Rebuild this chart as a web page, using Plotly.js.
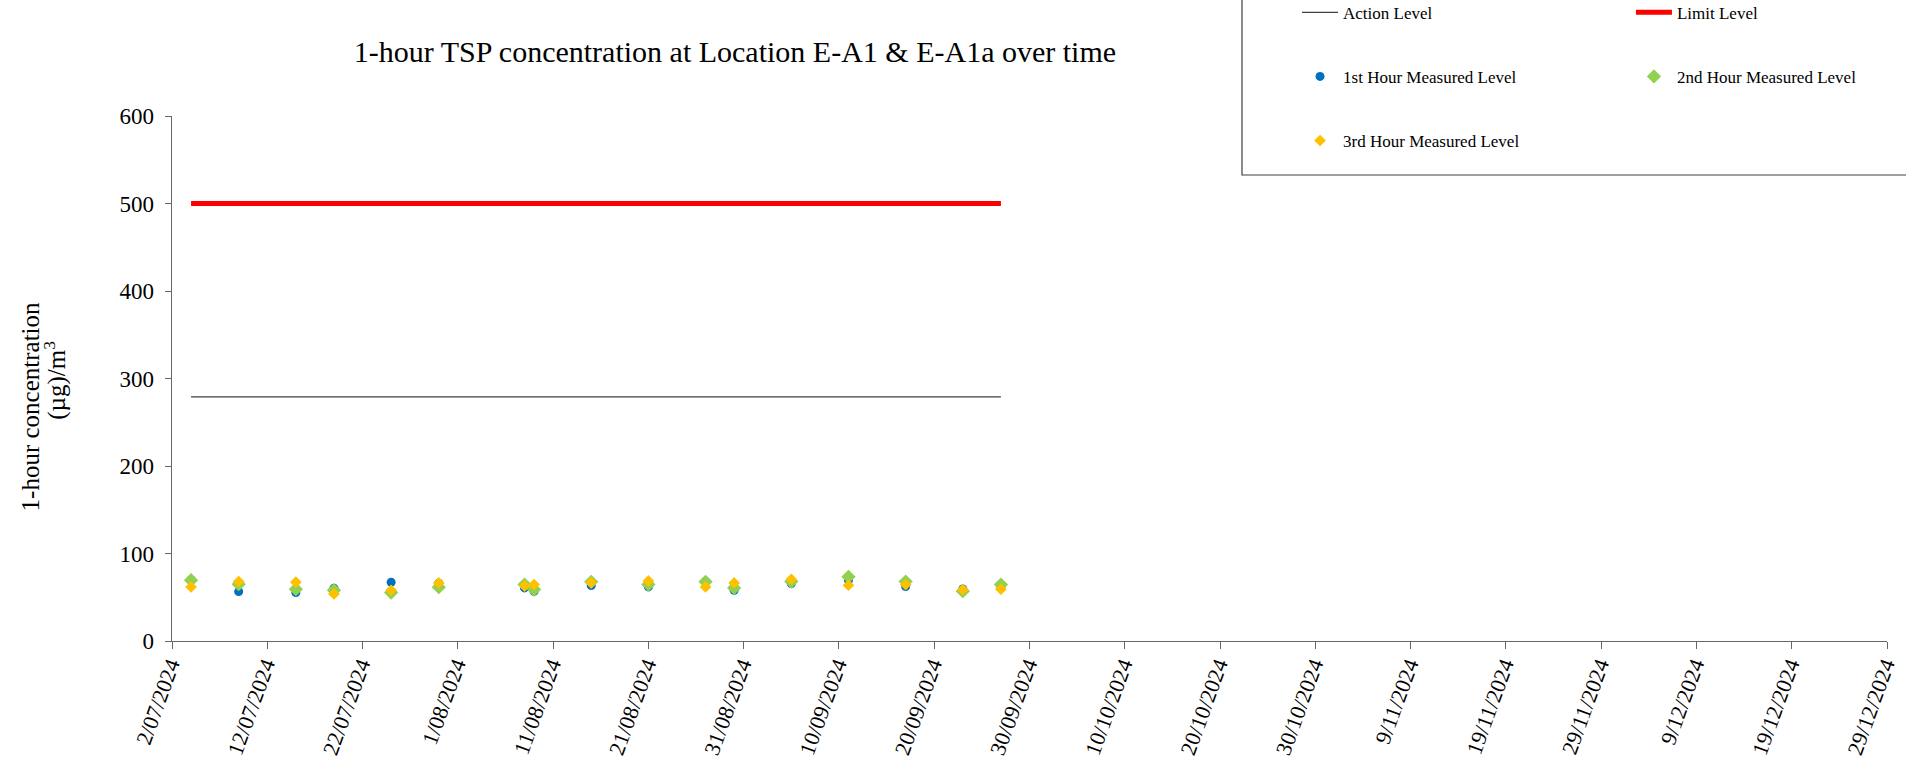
<!DOCTYPE html>
<html>
<head>
<meta charset="utf-8">
<script src="https://cdn.plot.ly/plotly-3.0.1.min.js"></script>
<style>html,body{margin:0;padding:0;background:#fff;}#chart{width:1906px;height:759px;}</style>
</head>
<body>
<div id="chart"></div>
<script>
// ---- data ----
const sampleDates = ['2024-07-04','2024-07-09','2024-07-15','2024-07-19','2024-07-25','2024-07-30',
  '2024-08-08','2024-08-09','2024-08-15','2024-08-21','2024-08-27','2024-08-30',
  '2024-09-05','2024-09-11','2024-09-17','2024-09-23','2024-09-27'];
const firstHour  = [70, 56.5, 55.3, 60.3, 67.2, 66, 60.7, 56.9, 63.4, 61.8, 68.3, 58, 65.6, 69.5, 62.2, 59.5, 61];
const secondHour = [69.5, 64.9, 59.2, 58, 55.3, 61.5, 64.5, 58.8, 67.6, 64.5, 67.6, 60.7, 67.9, 73.3, 67.9, 56.9, 64.5];
const thirdHour  = [61.8, 67.9, 67.2, 53.8, 58, 66.4, 63, 64.5, 66.8, 68.7, 61.8, 66.4, 70.6, 63.7, 64.5, 58.8, 59.2];
const levelDates = ['2024-07-04','2024-09-27'];
const actionLevel = [279, 279];
const limitLevel  = [500, 500];
const tickDates = ['2024-07-02','2024-07-12','2024-07-22','2024-08-01','2024-08-11','2024-08-21','2024-08-31',
  '2024-09-10','2024-09-20','2024-09-30','2024-10-10','2024-10-20','2024-10-30','2024-11-09',
  '2024-11-19','2024-11-29','2024-12-09','2024-12-19','2024-12-29'];
const tickLabels = ['2/07/2024','12/07/2024','22/07/2024','1/08/2024','11/08/2024','21/08/2024','31/08/2024',
  '10/09/2024','20/09/2024','30/09/2024','10/10/2024','20/10/2024','30/10/2024','9/11/2024',
  '19/11/2024','29/11/2024','9/12/2024','19/12/2024','29/12/2024'];
const yTicks = [0, 100, 200, 300, 400, 500, 600];
const yTitleLines = ['1-hour concentration', '(µg)/m<sup>3</sup>'];

const FONT = '"Times New Roman", "Liberation Serif", serif';

const traces = [
  {x: levelDates, y: actionLevel, name: 'Action Level', type: 'scatter', mode: 'lines',
   line: {color: '#404040', width: 1.3}, legend: 'legend', legendgroup: 'a', hoverinfo: 'skip'},
  {x: levelDates, y: limitLevel, name: 'Limit Level', type: 'scatter', mode: 'lines',
   line: {color: '#ff0000', width: 5}, legend: 'legend2', legendgroup: 'b', hoverinfo: 'skip'},
  {x: sampleDates, y: firstHour, name: '1st Hour Measured Level', type: 'scatter', mode: 'markers',
   marker: {color: '#0070c0', symbol: 'circle', size: 9}, legend: 'legend', legendgroup: 'c'},
  {x: sampleDates, y: secondHour, name: '2nd Hour Measured Level', type: 'scatter', mode: 'markers',
   marker: {color: '#92d050', symbol: 'diamond', size: 11}, legend: 'legend2', legendgroup: 'd'},
  {x: sampleDates, y: thirdHour, name: '3rd Hour Measured Level', type: 'scatter', mode: 'markers',
   marker: {color: '#ffc000', symbol: 'diamond', size: 9}, legend: 'legend', legendgroup: 'e'}
];

const legendCommon = {
  xref: 'paper', yref: 'paper', xanchor: 'left', yanchor: 'top',
  bgcolor: 'rgba(0,0,0,0)', borderwidth: 0, orientation: 'v',
  font: {family: FONT, size: 17, color: '#000'},
  tracegroupgap: 39, itemwidth: 36, traceorder: 'grouped'
};

const layout = {
  width: 1906, height: 759,
  paper_bgcolor: '#fff', plot_bgcolor: '#fff',
  margin: {l: 172, r: 19, t: 116, b: 118, autoexpand: false},
  font: {family: FONT, color: '#000'},
  title: {text: '1-hour TSP concentration at Location E-A1 & E-A1a over time',
    font: {family: FONT, size: 30, color: '#000'},
    xref: 'container', yref: 'container', x: 0.3856, xanchor: 'center', y: 0.9315, yanchor: 'middle'},
  xaxis: {
    type: 'date', range: ['2024-07-02', '2024-12-29'],
    tickmode: 'array', tickvals: tickDates, ticktext: tickLabels, tickangle: -70,
    tickfont: {family: FONT, size: 22, color: '#000'},
    ticks: 'outside', ticklen: 7, tickcolor: '#666', tickwidth: 1,
    ticklabelshift: -2, ticklabelstandoff: -6, ticklabeloverflow: 'allow',
    showline: true, linecolor: '#666', linewidth: 1.3,
    showgrid: false, zeroline: false, automargin: false
  },
  yaxis: {
    range: [0, 600], tickmode: 'array', tickvals: yTicks,
    tickfont: {family: FONT, size: 23, color: '#000'},
    ticks: 'outside', ticklen: 6, tickcolor: '#666', tickwidth: 1, ticklabelstandoff: 6,
    showline: true, linecolor: '#666', linewidth: 1.3,
    showgrid: false, zeroline: false, automargin: false
  },
  annotations: [
    {text: yTitleLines[0], textangle: -90, xref: 'paper', yref: 'paper', x: -0.0826, y: 0.4456,
     xanchor: 'center', yanchor: 'middle', showarrow: false, font: {family: FONT, size: 25, color: '#000'}},
    {text: yTitleLines[1], textangle: -90, xref: 'paper', yref: 'paper', x: -0.0684, y: 0.497,
     xanchor: 'center', yanchor: 'middle', showarrow: false, font: {family: FONT, size: 25, color: '#000'}}
  ],
  legend: Object.assign({}, legendCommon, {x: 0.656, y: 1.231}),
  legend2: Object.assign({}, legendCommon, {x: 0.8507, y: 1.231}),
  shapes: [
    {type: 'rect', xref: 'paper', yref: 'paper', x0: 0.6239, x1: 1.2, y0: 0.8876, y1: 1.4,
     line: {color: '#404040', width: 1.2}, fillcolor: 'rgba(0,0,0,0)', layer: 'below'}
  ],
  showlegend: true,
  hovermode: false
};

Plotly.newPlot('chart', traces, layout, {displayModeBar: false, staticPlot: true});
</script>
</body>
</html>
